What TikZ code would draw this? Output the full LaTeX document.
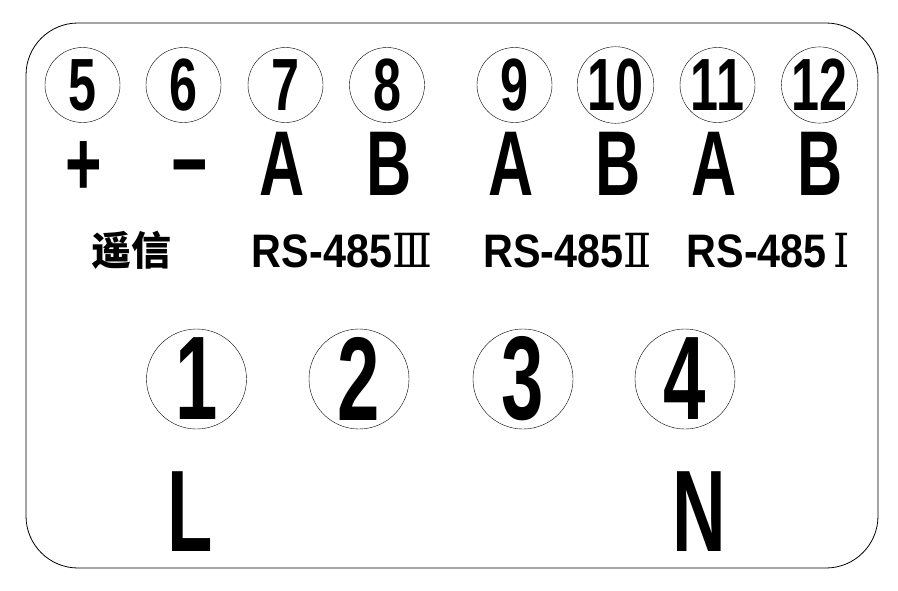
\documentclass[tikz,border=0pt]{standalone}
\usepackage{fontspec}
\usepackage{graphicx}
\setmainfont{Liberation Sans}
\newfontfamily\cjk{Noto Sans CJK SC}
\newfontfamily\numeralfont{DejaVu Serif}
\newcommand{\narrow}[2][0.68]{\scalebox{#1}[1]{#2}}
\tikzset{
  term/.style={draw, circle, line width=0.4pt, minimum size=75pt, inner sep=0pt,
    font=\fontsize{74}{80}\selectfont\bfseries},
  bigterm/.style={draw, circle, line width=0.4pt, minimum size=100pt, inner sep=0pt,
    font=\fontsize{119}{124}\selectfont\bfseries},
  sign/.style={anchor=base, inner sep=0pt, font=\fontsize{92}{96}\selectfont\bfseries},
  wire/.style={anchor=base, inner sep=0pt, font=\fontsize{116}{120}\selectfont\bfseries},
  group/.style={anchor=base, inner sep=0pt, font=\fontsize{47}{50}\selectfont\bfseries},
}

\begin{document}
\begin{tikzpicture}[x=1pt, y=-1pt]
  \useasboundingbox (0,0) rectangle (898,590);
  \draw[line width=0.8pt, rounded corners=52pt] (26,23) rectangle (878,568);

  % signal terminals
  \foreach \n/\x in {5/82.5, 6/183.5, 7/285.5, 8/387, 9/514.5, 10/615.5, 11/717.5, 12/819.5} {
    \node[term] (t\n) at (\x,85) {\narrow{\n}};
  }
  \foreach \n/\x/\s in {5/83.5/+, 6/190/−, 7/282/A, 8/389.5/B, 9/511/A, 10/618.5/B, 11/714/A, 12/820.5/B} {
    \node[sign] (s\n) at (\x,195) {\narrow{\s}};
  }

  \node[group] (yx) at (131,265) {\cjk\fontsize{40}{44}\selectfont 遥信};
  \node[group] (rs3) at (342,267) {\narrow[0.88]{RS-485{\numeralfont\mdseries Ⅲ}}};
  \node[group] (rs2) at (567.5,267) {\narrow[0.88]{RS-485{\numeralfont\mdseries Ⅱ}}};
  \node[group] (rs1) at (768.5,267) {\narrow[0.88]{RS-485\,{\numeralfont\mdseries Ⅰ}}};

  % power terminals
  \foreach \n/\x in {1/196.5, 2/359, 3/523, 4/685} {
    \node[bigterm] (t\n) at (\x,379) {\narrow[0.64]{\n}};
  }
  \node[wire] (L) at (190.5,551) {\narrow[0.64]{L}};
  \node[wire] (N) at (699,551) {\narrow[0.64]{N}};
\end{tikzpicture}
\end{document}
